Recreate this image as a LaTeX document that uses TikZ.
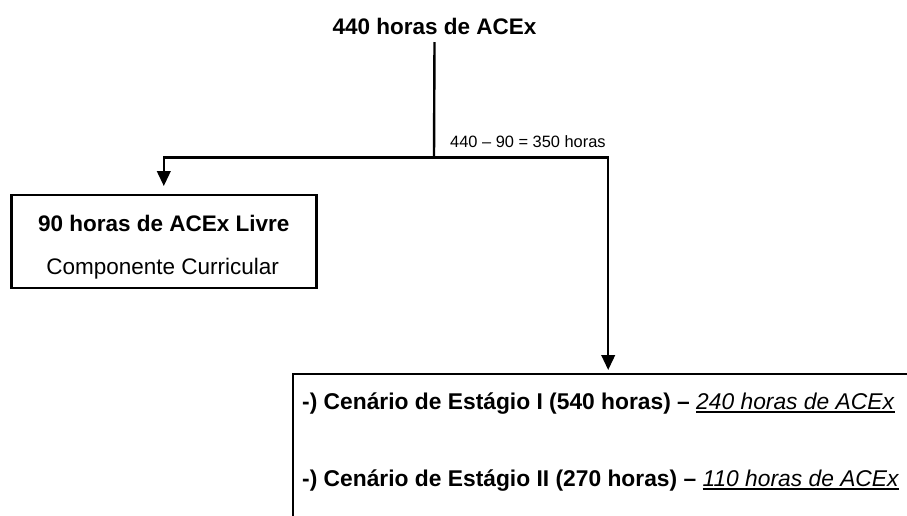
\documentclass[tikz,border=0pt]{standalone}
\usepackage{fontspec}
\setmainfont{Liberation Sans}
\usetikzlibrary{arrows.meta}
\newcommand\ulmine[1]{\setbox0\hbox{#1}\rlap{\rule[-3.3pt]{\wd0}{1.4pt}}\box0}
\tikzset{
  conn/.style={line width=2.4pt, line join=miter},
  arr/.style={conn, -{Triangle[width=13.5pt,length=15pt]}},
  boxshape/.style={draw, line width=2.4pt, rectangle, inner sep=0pt},
  big/.style={inner sep=0pt, font=\fontsize{22.5}{27}\selectfont},
  bigr/.style={inner sep=0pt, font=\fontsize{22.8}{27}\selectfont},
  small/.style={inner sep=0pt, font=\fontsize{16.4}{20}\selectfont},
}
\begin{document}
\begin{tikzpicture}[x=1pt,y=-1pt]
\useasboundingbox (0,0) rectangle (907,515);
\fill[white] (0,0) rectangle (907,515);
\clip (0,0) rectangle (907,515);
% title
\node[big, anchor=base] (title) at (434.5,34) {\textbf{440 horas de ACEx}};
\coordinate (j) at (434,157.5);
\node[small, anchor=base west] (calc) at (450,147.7) {440 -- 90 = 350 horas};
% left box
\node[boxshape, minimum width=305pt, minimum height=92.5pt] (lbox) at (163.8,241.5) {};
\node[big, anchor=base] (lt1) at (163.8,231.7) {\textbf{90 horas de ACEx Livre}};
\node[big, anchor=base] (lt2) at (162.6,274.5) {Componente Curricular};
% right box (clipped)
\node[boxshape, anchor=north west, minimum width=630pt, minimum height=200pt] (rbox) at (292,373) {};
\node[bigr, anchor=base west] (rt1) at (302,409.5) {\textbf{-) Cenário de Estágio I (540 horas) -- }\ulmine{\textit{240 horas de ACEx}}};
\node[bigr, anchor=base west] (rt2) at (302,486.5) {\textbf{-) Cenário de Estágio II (270 horas) -- }\ulmine{\textit{110 horas de ACEx}}};
% connectors
\draw[conn] (title.base) ++(0,8) -- (j);
\draw[arr] (j) -| ([yshift=8pt]lbox.north);
\draw[arr] (j) -| ([yshift=3pt]rbox.north);
\end{tikzpicture}
\end{document}
